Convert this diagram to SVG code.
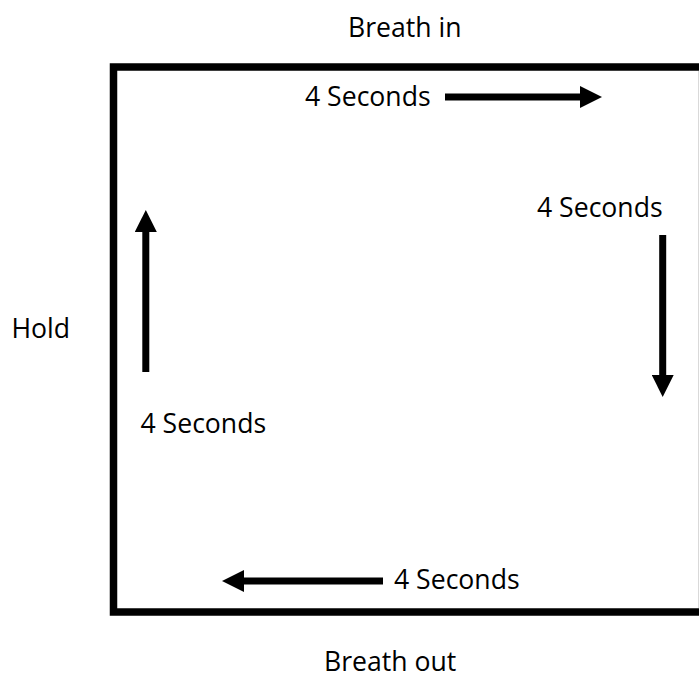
<svg xmlns="http://www.w3.org/2000/svg" width="699" height="679" viewBox="0 0 699 679">
  <style>
    .lbl { font-family: "Open Sans", "Noto Sans", "Liberation Sans", sans-serif; font-size: 26.6px; fill: #000; }
    .conn { stroke: #000; stroke-width: 7; fill: none; }
  </style>
  <defs>
    <marker id="head" markerUnits="userSpaceOnUse" markerWidth="22" markerHeight="22" viewBox="0 0 22 22" refX="0" refY="11" orient="auto">
      <path d="M0,0 L22,11 L0,22 Z" fill="#000"/>
    </marker>
  </defs>
  <rect width="699" height="679" fill="#fff"/>
  <g id="box">
    <rect x="113.5" y="67" width="600" height="545" fill="none" stroke="#000" stroke-width="7.5"/>
    <line x1="698.5" y1="71" x2="698.5" y2="608" stroke="#d9d9d9" stroke-width="1"/>
  </g>
  <g id="label-breath-in"><text class="lbl" x="348" y="37">Breath in</text></g>
  <g id="label-breath-out"><text class="lbl" x="324" y="671">Breath out</text></g>
  <g id="label-hold"><text class="lbl" x="11.5" y="337.5">Hold</text></g>
  <g id="label-top"><text class="lbl" x="305" y="106">4 Seconds</text></g>
  <g id="label-right"><text class="lbl" x="537" y="216.5">4 Seconds</text></g>
  <g id="label-left"><text class="lbl" x="140.5" y="433">4 Seconds</text></g>
  <g id="label-bottom"><text class="lbl" x="394" y="589">4 Seconds</text></g>
  <g id="connectors">
    <line class="conn" x1="445" y1="97" x2="580" y2="97" marker-end="url(#head)"/>
    <line class="conn" x1="662.7" y1="235" x2="662.7" y2="375" marker-end="url(#head)"/>
    <line class="conn" x1="383" y1="581" x2="244" y2="581" marker-end="url(#head)"/>
    <line class="conn" x1="145.8" y1="372" x2="145.8" y2="232" marker-end="url(#head)"/>
  </g>
</svg>
